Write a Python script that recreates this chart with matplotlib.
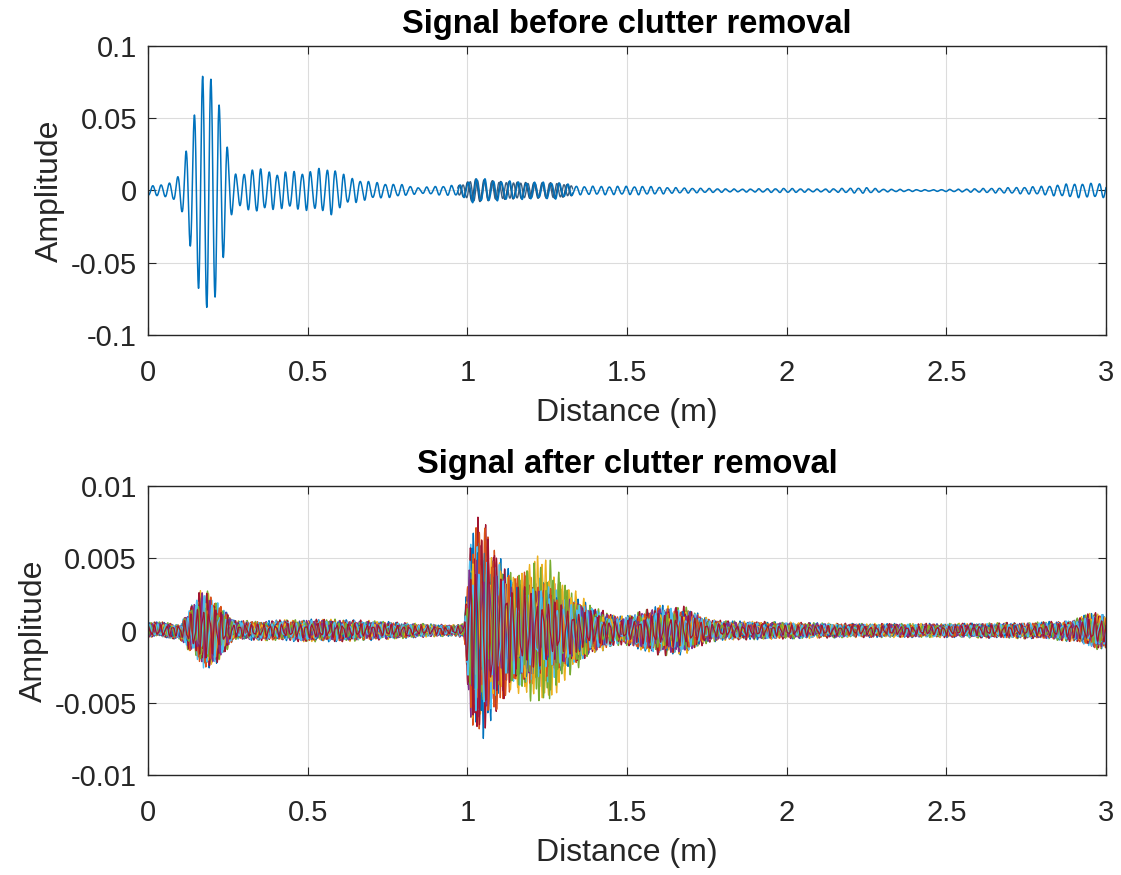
import numpy as np
import matplotlib
matplotlib.use("Agg")
import matplotlib.pyplot as plt

# ---------------- data ----------------
# Top panel: amplitude envelope (m, amplitude) of the raw signal
top_env_x = [0, 0.05, 0.08, 0.095, 0.107, 0.119, 0.134, 0.145, 0.16, 0.171, 0.185,
             0.197, 0.213, 0.225, 0.243, 0.254, 0.278, 0.3, 0.33, 0.4, 0.5, 0.58,
             0.62, 0.7, 0.8, 0.85, 0.9, 0.98, 1.02, 1.1, 1.2, 1.28, 1.35, 1.45,
             1.55, 1.65, 1.75, 1.85, 2.0, 2.1, 2.25, 2.3, 2.45, 2.55, 2.7, 2.8,
             2.9, 3.0]
top_env_y = [0.003, 0.004, 0.006, 0.01, 0.015, 0.027, 0.04, 0.052, 0.07, 0.079,
             0.081, 0.077, 0.073, 0.056, 0.04, 0.02, 0.01, 0.011, 0.016, 0.013,
             0.014, 0.017, 0.01, 0.006, 0.004, 0.002, 0.003, 0.004, 0.009, 0.007,
             0.006, 0.006, 0.003, 0.003, 0.003, 0.002, 0.0015, 0.001, 0.0015,
             0.001, 0.002, 0.001, 0.0005, 0.001, 0.002, 0.003, 0.005, 0.005]
top_wavelength = 0.026      # carrier period (m)
top_peak_at = 0.171         # position of the highest crest (m)

# Bottom panel: common envelope of the clutter-removed traces
bot_env_x = [0, 0.1, 0.13, 0.17, 0.2, 0.24, 0.27, 0.35, 0.5, 0.6, 0.7, 0.85, 0.95,
             0.99, 1.01, 1.04, 1.08, 1.12, 1.15, 1.2, 1.25, 1.3, 1.35, 1.4, 1.48,
             1.52, 1.6, 1.68, 1.75, 1.8, 2.0, 2.2, 2.5, 2.8, 2.9, 2.97, 3.0]
bot_env_y = [0.0006, 0.0006, 0.0016, 0.003, 0.0027, 0.0016, 0.0007, 0.0007,
             0.0008, 0.0008, 0.0007, 0.0005, 0.0004, 0.0005, 0.0068, 0.0076, 0.0062,
             0.005, 0.0045, 0.005, 0.0048, 0.0035, 0.0025, 0.0016, 0.001, 0.0012,
             0.0018, 0.0017, 0.0009, 0.0007, 0.0006, 0.0005, 0.0005, 0.0006, 0.0008,
             0.0014, 0.0012]
# one entry per trace: wavelength (m), phase, weights (base, near 1.05 m, near 1.25 m)
trace_wl = [0.022, 0.019, 0.024, 0.021, 0.025, 0.018, 0.023,
            0.020, 0.026, 0.0215, 0.0235, 0.0195, 0.0225, 0.0245,
            0.0205, 0.0185, 0.0255, 0.022, 0.021, 0.024, 0.019]
trace_phase = [0.0, 1.3, 2.6, 3.9, 5.2, 0.6, 1.9, 3.2, 4.5, 5.8, 0.3,
               1.6, 2.9, 4.2, 5.5, 0.9, 2.2, 3.5, 4.8, 6.1, 1.1]
trace_w_base = [0.9, 0.8, 0.9, 0.8, 0.9, 0.8, 0.9, 0.7, 0.8, 0.7, 0.8,
                0.7, 0.8, 0.7, 0.6, 0.7, 0.6, 0.7, 0.6, 0.7, 0.6]
trace_w_early = [0.95, 0.9, 0.7, 0.8, 0.6, 0.8, 1.0, 0.8, 0.95, 0.6, 0.7,
                 0.5, 0.7, 0.9, 0.7, 0.85, 0.6, 0.7, 0.5, 0.7, 0.9]
trace_w_late = [0.6, 0.7, 1.0, 0.5, 1.0, 0.7, 0.5, 0.5, 0.6, 0.95, 0.5,
                0.95, 0.6, 0.5, 0.5, 0.6, 0.9, 0.5, 0.9, 0.5, 0.4]

matlab_colors = ["#0072BD", "#D95319", "#EDB120", "#7E2F8E", "#77AC30", "#4DBEEE", "#A2142F"]

x_ticks = [0, 0.5, 1, 1.5, 2, 2.5, 3]
x_ticklabels = ["0", "0.5", "1", "1.5", "2", "2.5", "3"]
top_yticks = [-0.1, -0.05, 0, 0.05, 0.1]
top_yticklabels = ["-0.1", "-0.05", "0", "0.05", "0.1"]
bot_yticks = [-0.01, -0.005, 0, 0.005, 0.01]
bot_yticklabels = ["-0.01", "-0.005", "0", "0.005", "0.01"]

# ---------------- build curves ----------------
d = np.linspace(0, 3, 6000)
env_top = np.interp(d, top_env_x, top_env_y)
ph = 2 * np.pi * (d - top_peak_at) / top_wavelength
harm = np.interp(d, [0, 0.3, 0.35, 3], [0.0, 0.0, 0.1, 0.1])
sig_top = env_top * ((1 - harm) * np.cos(ph) + harm * np.cos(1.7 * ph + 1.0))
mask2 = (d > 0.97) & (d < 1.33)
sig_top2 = np.where(mask2, env_top * 0.9 * np.cos(ph + 0.6), np.nan)
sig_top3 = np.where(mask2, env_top * 0.8 * np.cos(1.15 * ph - 0.4), np.nan)

env_bot = np.interp(d, bot_env_x, bot_env_y)

plt.rcParams['font.family'] = ['Liberation Sans', 'DejaVu Sans']
fig = plt.figure(figsize=(11.21, 8.75), dpi=100)
ax1 = fig.add_axes([148 / 1121, 1 - 335 / 875, (1106 - 148) / 1121, (335 - 46) / 875])
ax2 = fig.add_axes([148 / 1121, 1 - 775 / 875, (1106 - 148) / 1121, (775 - 486) / 875])

ax1.plot(d, sig_top2, color="#2a4d6e", lw=1.0)
ax1.plot(d, sig_top3, color="#3a5f80", lw=1.0)
ax1.plot(d, sig_top, color="#0072BD", lw=1.1)

for k in range(len(trace_phase)):
    w = np.interp(d, [0, 0.98, 1.05, 1.15, 1.25, 1.4, 3.0],
                  [trace_w_base[k], trace_w_base[k], trace_w_early[k],
                   0.5 * (trace_w_early[k] + trace_w_late[k]), trace_w_late[k],
                   trace_w_base[k], trace_w_base[k]])
    y = env_bot * w * (0.8 * np.sin(2 * np.pi * d / trace_wl[k] + trace_phase[k])
                       + 0.3 * np.sin(2 * np.pi * d / (trace_wl[k] * 0.55) + 2 * trace_phase[k]))
    ax2.plot(d, y, color=matlab_colors[k % 7], lw=0.9)

for ax, yt, ytl, ttl in [(ax1, top_yticks, top_yticklabels, "Signal before clutter removal"),
                         (ax2, bot_yticks, bot_yticklabels, "Signal after clutter removal")]:
    ax.set_xlim(0, 3)
    ax.set_ylim(yt[0], yt[-1])
    ax.set_xticks(x_ticks)
    ax.set_xticklabels(x_ticklabels)
    ax.set_yticks(yt)
    ax.set_yticklabels(ytl)
    ax.grid(True, color="#dcdcdc", lw=0.8)
    ax.set_axisbelow(True)
    ax.tick_params(direction="in", top=True, right=True, labelsize=21,
                   colors="#262626", length=6)
    ax.tick_params(axis="x", pad=17)
    ax.tick_params(axis="y", pad=8)
    for s in ax.spines.values():
        s.set_color("#262626")
        s.set_linewidth(1.0)
    ax.set_xlabel("Distance (m)", fontsize=23, color="#262626", labelpad=8)
    ax.set_ylabel("Amplitude", fontsize=23, color="#262626", labelpad=4)
    ax.set_title(ttl, fontsize=23.5, fontweight="bold", color="black", pad=9)

fig.savefig("out.png", dpi=100)
